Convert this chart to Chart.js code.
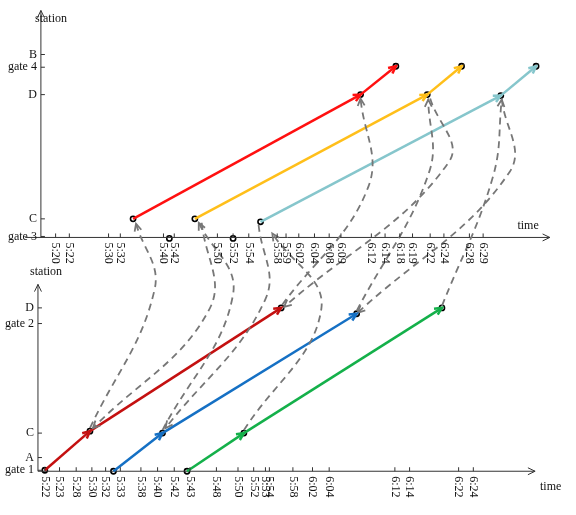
<!DOCTYPE html>
<html>
<head>
<meta charset="utf-8">
<script src="https://cdn.jsdelivr.net/npm/chart.js@4"></script>
<style>
  body { margin: 0; background: #fff; }
  #wrap { width: 576px; height: 515px; }
</style>
</head>
<body>
<div id="wrap"><canvas id="myChart" width="576" height="515"></canvas></div>
<script>
// both panels share one value space (x: 0-576, y: 0-515 top-down)
// top panel: time axis at y=236, station axis at x=36
const topTimeLabels = ['5:20','5:22','5:30','5:32','5:40','5:42','5:50','5:52','5:54','5:58','5:59','6:02','6:04','6:08','6:09','6:12','6:14','6:18','6:19','6:22','6:24','6:28','6:29'];
const topTimePos = [51,65,105,117,161,172,216,232,248,277,286,299,315,330,342,373,387,402,415,433,447,473,487];
const topStations = ['B','gate 4','D','C','gate 3'];
const topStationPos = [50,63,91,218,236];

// bottom panel: time axis at y=475, station axis at x=33
const botTimeLabels = ['5:22','5:23','5:28','5:30','5:32','5:33','5:38','5:40','5:42','5:43','5:48','5:50','5:52','5:53','5:54','5:58','6:02','6:04','6:12','6:14','6:22','6:24'];
const botTimePos = [40,55,72,88,102,117,138,155,172,188,215,237,253,265,269,293,313,330,397,412,462,477];
const botStations = ['D','gate 2','C','A','gate 1'];
const botStationPos = [309,325,437,462,475];

// trains: [x, y] points
const trainsTop = [
  { color: '#ff1010', pts: [[130,218],[362,91],[398,62]] },
  { color: '#ffbf1a', pts: [[193,218],[430,91],[465,62]] },
  { color: '#86c6cc', pts: [[260,221],[505,92],[541,62]] }
];
const trainsBot = [
  { color: '#c41010', pts: [[40,475],[86,435],[281,309]] },
  { color: '#1570c4', pts: [[110,476],[160,437],[358,315]] },
  { color: '#14b04a', pts: [[185,476],[243,437],[445,309]] }
];
const extraDots = [[167,238],[232,238]];

// transfers: start, bend, end (arrow at end)
const transfers = [
  [[86,432],[152,290],[133,223]],
  [[200,222],[208,310],[89,432]],
  [[160,434],[232,295],[197,222]],
  [[258,224],[265,300],[163,432]],
  [[243,434],[322,310],[272,233]],
  [[282,306],[370,185],[362,95]],
  [[433,95],[452,160],[284,308]],
  [[358,312],[432,170],[431,96]],
  [[506,96],[514,170],[359,314]],
  [[445,307],[497,175],[506,96]]
];

const datasets = [];
const toXY = p => ({ x: p[0], y: p[1] });

transfers.forEach(t => datasets.push({
  data: t.map(toXY), borderColor: '#777', borderWidth: 1.8, borderDash: [7, 5],
  tension: 0.4, pointRadius: 0, showLine: true, arrow: '#777'
}));

[...trainsTop, ...trainsBot].forEach(tr => {
  for (let i = 0; i < tr.pts.length - 1; i++) {
    datasets.push({
      data: [toXY(tr.pts[i]), toXY(tr.pts[i + 1])], borderColor: tr.color, borderWidth: 2.5,
      pointRadius: 0, showLine: true, arrow: tr.color
    });
  }
});

// axes lines
datasets.push({ data: [{x:36,y:237},{x:36,y:5}], borderColor: '#333', borderWidth: 1, pointRadius: 0, showLine: true, arrow: '#333' });
datasets.push({ data: [{x:20,y:237},{x:555,y:237}], borderColor: '#333', borderWidth: 1, pointRadius: 0, showLine: true, arrow: '#333' });
datasets.push({ data: [{x:33,y:476},{x:33,y:285}], borderColor: '#333', borderWidth: 1, pointRadius: 0, showLine: true, arrow: '#333' });
datasets.push({ data: [{x:33,y:476},{x:540,y:476}], borderColor: '#333', borderWidth: 1, pointRadius: 0, showLine: true, arrow: '#333' });

// dots
const dots = [];
[...trainsTop, ...trainsBot].forEach(tr => tr.pts.forEach(p => dots.push(toXY(p))));
extraDots.forEach(p => dots.push(toXY(p)));
datasets.push({ data: dots, pointRadius: 2.6, pointBackgroundColor: '#fff', pointBorderColor: '#000', pointBorderWidth: 1.6, showLine: false });

const decor = {
  id: 'decor',
  afterDatasetsDraw(chart) {
    const c = chart.ctx, xs = chart.scales.x, ys = chart.scales.y;
    const X = v => xs.getPixelForValue(v), Y = v => ys.getPixelForValue(v);
    c.save();
    // arrowheads
    chart.data.datasets.forEach(ds => {
      if (!ds.arrow) return;
      const n = ds.data.length, a = ds.data[n - 2], b = ds.data[n - 1];
      const ang = Math.atan2(Y(b.y) - Y(a.y), X(b.x) - X(a.x));
      c.strokeStyle = ds.arrow; c.lineWidth = ds.borderWidth; c.setLineDash([]);
      c.beginPath();
      const L = 8;
      c.moveTo(X(b.x) - L * Math.cos(ang - 0.45), Y(b.y) - L * Math.sin(ang - 0.45));
      c.lineTo(X(b.x), Y(b.y));
      c.lineTo(X(b.x) - L * Math.cos(ang + 0.45), Y(b.y) - L * Math.sin(ang + 0.45));
      c.stroke();
    });
    c.fillStyle = '#111'; c.strokeStyle = '#333'; c.lineWidth = 1;
    c.font = '12px "Liberation Serif", serif';
    const xTicks = (labels, pos, yAxis) => labels.forEach((l, i) => {
      const px = X(pos[i]), py = Y(yAxis);
      c.beginPath(); c.moveTo(px, py); c.lineTo(px, py - 4); c.stroke();
      c.save(); c.translate(px, py + 5); c.rotate(Math.PI / 2);
      c.textAlign = 'left'; c.textBaseline = 'middle'; c.fillText(l, 0, 0); c.restore();
    });
    const yTicks = (labels, pos, xAxis) => labels.forEach((l, i) => {
      const px = X(xAxis), py = Y(pos[i]);
      c.beginPath(); c.moveTo(px, py); c.lineTo(px + 4, py); c.stroke();
      c.textAlign = 'right'; c.textBaseline = 'middle'; c.fillText(l, px - 4, py);
    });
    xTicks(topTimeLabels, topTimePos, 237);
    xTicks(botTimeLabels, botTimePos, 476);
    yTicks(topStations, topStationPos, 36);
    yTicks(botStations, botStationPos, 33);
    c.textAlign = 'left'; c.textBaseline = 'middle';
    c.fillText('station', X(30), Y(14));
    c.fillText('time', X(522), Y(225));
    c.fillText('station', X(25), Y(272));
    c.fillText('time', X(545), Y(492));
    c.restore();
  }
};

new Chart(document.getElementById('myChart'), {
  type: 'scatter',
  data: { datasets },
  options: {
    responsive: false,
    animation: false,
    layout: { padding: 0 },
    plugins: { legend: { display: false }, tooltip: { enabled: false } },
    scales: {
      x: { type: 'linear', min: 0, max: 576, display: false },
      y: { type: 'linear', min: 0, max: 515, reverse: true, display: false }
    }
  },
  plugins: [decor]
});
</script>
</body>
</html>
